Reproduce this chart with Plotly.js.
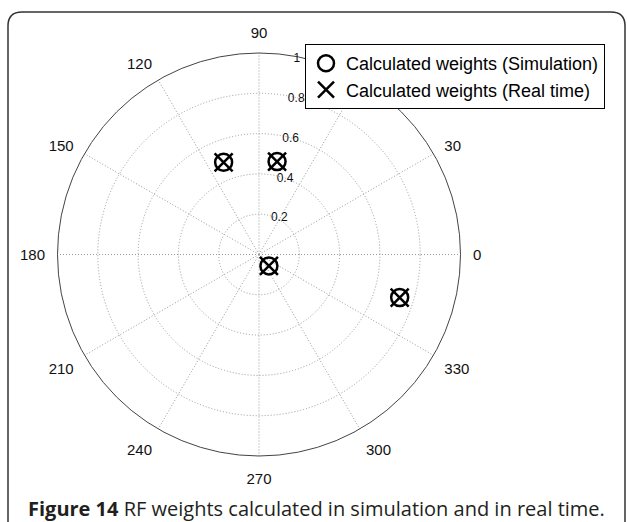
<!DOCTYPE html>
<html>
<head>
<meta charset="utf-8">
<script src="https://cdn.plot.ly/plotly-3.0.1.min.js"></script>
<style>html,body{margin:0;padding:0;background:#fff;}#chart{width:627px;height:522px;}</style>
</head>
<body>
<div id="chart"></div>
<script>
// Data (angle in degrees, radius 0..1)
const thetaSimulation = [111, 79, 311, 343];
const rSimulation = [0.49, 0.47, 0.075, 0.73];
const thetaRealTime = [111, 79, 311, 343];
const rRealTime = [0.49, 0.47, 0.075, 0.73];
const angleTicks = [0, 30, 60, 90, 120, 150, 180, 210, 240, 270, 300, 330];
// the 60 label is hidden behind the legend in the reference
const angleTickLabels = ['0', '30', '', '90', '120', '150', '180', '210', '240', '270', '300', '330'];
const radialTicks = [0.2, 0.4, 0.6, 0.8, 1];
const radialTickLabels = ['0.2', '0.4', '0.6', '0.8', '1'];
const seriesNames = ['Calculated weights (Simulation)', 'Calculated weights (Real time)'];
const captionBold = 'Figure 14';
const captionText = 'RF weights calculated in simulation and in real time.';

const W = 627, H = 522;
const cx = 259, cy = 254.5, R = 201.5;

const traces = [
  {
    type: 'scatterpolar', mode: 'markers', name: seriesNames[0],
    theta: thetaSimulation, r: rSimulation,
    marker: {symbol: 'circle-open', size: 17, color: '#000', line: {width: 2.5, color: '#000'}},
    hoverinfo: 'skip'
  },
  {
    type: 'scatterpolar', mode: 'markers', name: seriesNames[1],
    theta: thetaRealTime, r: rRealTime,
    marker: {symbol: 'x-thin-open', size: 18, color: '#000', line: {width: 2.5, color: '#000'}},
    hoverinfo: 'skip'
  }
];

const L = 8 / W, T = (H - 12) / H, Rr = 625 / W, rx = 14 / W, ry = 14 / H;
const framePath = `M ${L},-0.05 L ${L},${T - ry} Q ${L},${T} ${L + rx},${T} L ${Rr - rx},${T} Q ${Rr},${T} ${Rr},${T - ry} L ${Rr},-0.05`;

const layout = {
  width: W, height: H,
  margin: {l: 0, r: 0, t: 0, b: 0},
  paper_bgcolor: '#fff',
  font: {family: 'Liberation Sans, Arial, sans-serif', color: '#000'},
  showlegend: true,
  legend: {
    x: 305 / W, y: (H - 44) / H, xanchor: 'left', yanchor: 'top',
    bgcolor: '#fff', bordercolor: '#000', borderwidth: 1,
    font: {family: 'Liberation Sans, Arial, sans-serif', size: 18, color: '#000'},
    tracegroupgap: 0
  },
  polar: {
    domain: {x: [(cx - R) / W, (cx + R) / W], y: [(H - cy - R) / H, (H - cy + R) / H]},
    bgcolor: '#fff',
    angularaxis: {
      direction: 'counterclockwise', rotation: 0,
      tickmode: 'array', tickvals: angleTicks, ticktext: angleTickLabels,
      showline: true, linecolor: '#444', linewidth: 1,
      showgrid: true, gridcolor: '#999', griddash: '1px,2px', gridwidth: 1,
      ticks: 'outside', ticklen: 9, tickcolor: 'rgba(0,0,0,0)',
      tickfont: {family: 'Liberation Sans, Arial, sans-serif', size: 15, color: '#111'}
    },
    radialaxis: {
      range: [0, 1], angle: 82, side: 'clockwise', tickangle: 82,
      tickmode: 'array', tickvals: radialTicks, ticktext: radialTickLabels,
      showline: false, ticks: '',
      showgrid: true, gridcolor: '#999', griddash: '1px,2px', gridwidth: 1,
      tickfont: {family: 'Liberation Sans, Arial, sans-serif', size: 12, color: '#111'}
    }
  },
  shapes: [
    {type: 'path', xref: 'paper', yref: 'paper', path: framePath, line: {color: '#333', width: 1.5}}
  ],
  annotations: [
    {
      xref: 'paper', yref: 'paper', x: 26 / W, y: (H - 508) / H, xanchor: 'left', yanchor: 'middle',
      showarrow: false,
      text: '<b>' + captionBold + '</b> ' + captionText,
      font: {family: 'Open Sans, Noto Sans, sans-serif', size: 20, color: '#231f20'}
    }
  ]
};

Plotly.newPlot('chart', traces, layout, {staticPlot: true, displayModeBar: false});
</script>
</body>
</html>
